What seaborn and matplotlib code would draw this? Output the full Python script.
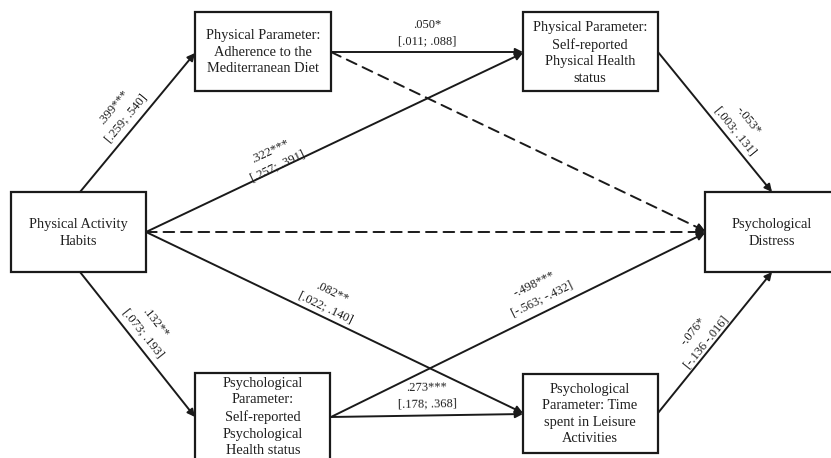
import numpy as np
import pandas as pd
import matplotlib
matplotlib.use("Agg")
import matplotlib.pyplot as plt
from matplotlib.patches import Rectangle
import seaborn as sns

# ---- data ----
node_names = ["PA", "Diet", "PhysH", "Distress", "PsyH", "Leisure"]
node_labels = [
    "Physical Activity\nHabits",
    "Physical Parameter:\nAdherence to the\nMediterranean Diet",
    "Physical Parameter:\nSelf-reported\nPhysical Health\nstatus",
    "Psychological\nDistress",
    "Psychological\nParameter:\nSelf-reported\nPsychological\nHealth status",
    "Psychological\nParameter: Time\nspent in Leisure\nActivities",
]
edge_from = ["PA", "PA", "Diet", "Diet", "PA", "PA", "PA", "PsyH", "PsyH", "PhysH", "Leisure"]
edge_to = ["Diet", "PhysH", "PhysH", "Distress", "Distress", "Leisure", "PsyH", "Leisure", "Distress", "Distress", "Distress"]
edge_coef = [".399***", ".322***", ".050*", "", "", ".082**", ".132**", ".273***", "-.498***", "-.053*", "-.076*"]
edge_ci = ["[.259; .540]", "[.257; .391]", "[.011; .088]", "", "", "[.022; .140]", "[.073; .193]",
           "[.178; .368]", "[-.563; -.432]", "[.003; .131]", "[-.136 -.016]"]
edge_dashed = [False, False, False, True, True, False, False, False, False, False, False]

# ---- layout (pixel coordinates) ----
boxes = {
    "PA": (11, 192, 146, 272),
    "Diet": (195, 12, 331, 91),
    "PhysH": (523, 12, 658, 91),
    "Distress": (705, 192, 845, 272),
    "PsyH": (195, 373, 330, 475),
    "Leisure": (523, 374, 658, 453),
}
text_centers = {
    "PA": (78, 233), "Diet": (263, 52), "PhysH": (590, 53),
    "Distress": (772, 233), "PsyH": (263, 417), "Leisure": (590, 414),
}
edge_pts = [
    ((80, 192), (195, 53)),
    ((146, 232), (523, 53)),
    ((331, 52), (523, 52)),
    ((331, 52), (705, 231)),
    ((146, 232), (705, 232)),
    ((146, 232), (523, 413)),
    ((80, 272), (195, 417)),
    ((331, 417), (523, 414)),
    ((331, 417), (705, 233)),
    ((658, 52), (772, 192)),
    ((658, 413), (772, 272)),
]
label_pos = [
    (120, 113), (274, 159), (427, 33), None, None, (329, 300), (149, 328),
    (427, 396), (538, 292), (742, 126), (700, 337),
]

sns.set_theme(style="white")
plt.rcParams["font.family"] = ["Liberation Serif", "DejaVu Serif"]

W, H = 831, 458
fig = plt.figure(figsize=(W / 100, H / 100), dpi=100)
ax = fig.add_axes([0, 0, 1, 1])
ax.set_xlim(0, W)
ax.set_ylim(H, 0)
ax.axis("off")

ink = "#1a1a1a"
txt = "#1f1f1f"

# edges
for i in range(len(edge_from)):
    (x0, y0), (x1, y1) = edge_pts[i]
    ls = (0, (5.5, 3.5)) if edge_dashed[i] else "-"
    ax.annotate("", xy=(x1, y1), xytext=(x0, y0),
                arrowprops=dict(arrowstyle="-|>", color=ink, lw=1.4, linestyle=ls,
                                mutation_scale=11, shrinkA=0, shrinkB=0))
    if edge_dashed[i]:
        dx, dy = x1 - x0, y1 - y0
        L = np.hypot(dx, dy)
        ax.annotate("", xy=(x1, y1), xytext=(x1 - dx / L * 8, y1 - dy / L * 8),
                    arrowprops=dict(arrowstyle="-|>", color=ink, lw=1.4,
                                    mutation_scale=11, shrinkA=0, shrinkB=0))
    if label_pos[i] is not None:
        ang = np.degrees(np.arctan2(-(y1 - y0), x1 - x0))
        ax.text(label_pos[i][0], label_pos[i][1], edge_coef[i] + "\n" + edge_ci[i],
                ha="center", va="center", rotation=ang, rotation_mode="anchor",
                fontsize=9.0, color=txt, linespacing=1.45)

# boxes
for name, lab in zip(node_names, node_labels):
    x0, y0, x1, y1 = boxes[name]
    ax.add_patch(Rectangle((x0, y0), x1 - x0, y1 - y0, fill=True, facecolor="white",
                           edgecolor=ink, lw=1.6, zorder=3))
    cx, cy = text_centers[name]
    ax.text(cx, cy, lab, ha="center", va="center", fontsize=10.4, color=txt,
            linespacing=1.36, zorder=4)

fig.savefig("out.png", dpi=100)
